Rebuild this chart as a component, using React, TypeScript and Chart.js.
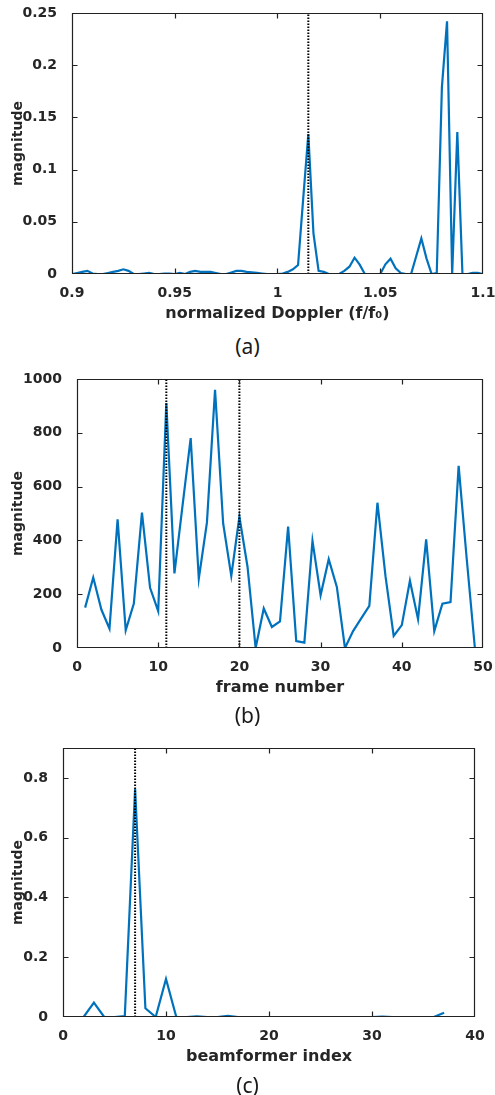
import React, { useEffect, useRef } from "react";
import { Chart, registerables } from "chart.js";

Chart.register(...registerables);

// ---------- Panel (a) ----------
const dopplerA = [
  0.9, 0.9025, 0.905, 0.9075, 0.91, 0.9125, 0.915, 0.9175, 0.92, 0.9225,
  0.925, 0.9275, 0.93, 0.9325, 0.935, 0.9375, 0.94, 0.9425, 0.945, 0.9475,
  0.95, 0.9525, 0.955, 0.9575, 0.96, 0.9625, 0.965, 0.9675, 0.97, 0.9725,
  0.975, 0.9775, 0.98, 0.9825, 0.985, 0.9875, 0.99, 0.9925, 0.995, 0.9975,
  1.0, 1.0025, 1.005, 1.0075, 1.01, 1.0125, 1.015, 1.0175, 1.02, 1.0225,
  1.025, 1.0275, 1.03, 1.0325, 1.035, 1.0375, 1.04, 1.0425, 1.045, 1.0475,
  1.05, 1.0525, 1.055, 1.0575, 1.06, 1.0625, 1.065, 1.0675, 1.07, 1.0725,
  1.075, 1.0775, 1.08, 1.0825, 1.085, 1.0875, 1.09, 1.0925, 1.095, 1.0975,
  1.1,
];
const magnitudeA = [
  0, 0.001, 0.002, 0.003, 0.0005, 0, 0, 0.001, 0.002, 0.003,
  0.0045, 0.003, 0, 0, 0.0005, 0.001, 0, 0, 0.0005, 0.0005,
  0, 0.001, 0, 0.002, 0.003, 0.002, 0.002, 0.002, 0.001, 0,
  0, 0.0015, 0.003, 0.003, 0.002, 0.0015, 0.001, 0.0005, 0, 0,
  0, 0.0005, 0.002, 0.0045, 0.0086, 0.072, 0.134, 0.039, 0.003, 0.002,
  0, 0, 0, 0.003, 0.007, 0.0156, 0.009, 0, 0, 0,
  0, 0.0093, 0.0147, 0.0055, 0.001, 0, 0, 0.017, 0.034, 0.015,
  0, 0.001, 0.179, 0.242, 0, 0.136, 0, 0, 0.001, 0.001,
  0,
];
const markersA = [1.015];
const xTicksA = [0.9, 0.95, 1, 1.05, 1.1];
const yTicksA = [0, 0.05, 0.1, 0.15, 0.2, 0.25];

// ---------- Panel (b) ----------
const framesB = [
  1, 2, 3, 4, 5, 6, 7, 8, 9, 10, 11, 12, 13, 14, 15, 16, 17, 18, 19, 20, 21, 22, 23, 24, 25,
  26, 27, 28, 29, 30, 31, 32, 33, 34, 35, 36, 37, 38, 39, 40, 41, 42, 43, 44, 45, 46, 47, 48, 49,
];
const magnitudeB = [
  150, 262, 143, 72, 478, 66, 165, 503, 224, 137, 911, 277, 530, 780, 258, 466, 960, 463, 268, 488,
  302, 0, 147, 78, 99, 451, 26, 20, 398, 196, 330, 227, 0, 63, 110, 157, 540, 265, 45, 85,
  250, 107, 404, 63, 165, 171, 677, 330, 0,
];
const markersB = [11, 20];
const xTicksB = [0, 10, 20, 30, 40, 50];
const yTicksB = [0, 200, 400, 600, 800, 1000];

// ---------- Panel (c) ----------
const beamsC = [
  1, 2, 3, 4, 5, 6, 7, 8, 9, 10, 11, 12, 13, 14, 15, 16, 17, 18, 19, 20,
  21, 22, 23, 24, 25, 26, 27, 28, 29, 30, 31, 32, 33, 34, 35, 36, 37,
];
const magnitudeC = [
  0, 0, 0.048, 0, 0, 0.003, 0.763, 0.029, 0, 0.127, 0, 0, 0.002, 0, 0, 0.004, 0, 0, 0, 0,
  0, 0, 0, 0, 0, 0, 0, 0, 0, 0, 0.001, 0, 0, 0, 0, 0, 0.0145,
];
const markersC = [7];
const xTicksC = [0, 10, 20, 30, 40];
const yTicksC = [0, 0.2, 0.4, 0.6, 0.8];

const PAGE_W = 495;
const TEXT = "#262626";
const BLUE = "#0072BD";

type Spec = {
  top: number;
  plotLeft: number;
  plotRight: number;
  plotTop: number;
  plotBottom: number;
  xTitleCenter: number;
  captionCenter: number;
  caption: string;
  xs: number[];
  ys: number[];
  markers: number[];
  xMin: number;
  xMax: number;
  yMin: number;
  yMax: number;
  xTicks: number[];
  yTicks: number[];
  xTitle: string;
  yTitle: string;
};

const specs: Spec[] = [
  {
    top: 0, plotLeft: 72, plotRight: 483, plotTop: 13, plotBottom: 274,
    xTitleCenter: 312, captionCenter: 346, caption: "(a)",
    xs: dopplerA, ys: magnitudeA, markers: markersA,
    xMin: 0.9, xMax: 1.1, yMin: 0, yMax: 0.25,
    xTicks: xTicksA, yTicks: yTicksA,
    xTitle: "normalized Doppler (f/f\u2080)", yTitle: "magnitude",
  },
  {
    top: 360, plotLeft: 77, plotRight: 483, plotTop: 379, plotBottom: 648,
    xTitleCenter: 686, captionCenter: 715, caption: "(b)",
    xs: framesB, ys: magnitudeB, markers: markersB,
    xMin: 0, xMax: 50, yMin: 0, yMax: 1000,
    xTicks: xTicksB, yTicks: yTicksB,
    xTitle: "frame number", yTitle: "magnitude",
  },
  {
    top: 730, plotLeft: 63, plotRight: 475, plotTop: 748, plotBottom: 1017,
    xTitleCenter: 1055, captionCenter: 1085, caption: "(c)",
    xs: beamsC, ys: magnitudeC, markers: markersC,
    xMin: 0, xMax: 40, yMin: 0, yMax: 0.9,
    xTicks: xTicksC, yTicks: yTicksC,
    xTitle: "beamformer index", yTitle: "magnitude",
  },
];

const fmt = (v: number) => String(+Number(v).toFixed(4));

const boxPlugin = {
  id: "matlabBox",
  afterDraw(chart: any) {
    const { ctx, chartArea } = chart;
    const { left, right, top, bottom } = chartArea;
    const xs = chart.scales.x;
    const ys = chart.scales.y;
    const tl = 5;
    ctx.save();
    ctx.setLineDash([]);
    ctx.strokeStyle = "#222222";
    ctx.lineWidth = 1.2;
    const L = Math.round(left) + 0.5;
    const R = Math.round(right) - 0.5;
    const T = Math.round(top) + 0.5;
    const B = Math.round(bottom) - 0.5;
    ctx.beginPath();
    ctx.moveTo(L, T);
    ctx.lineTo(R, T);
    ctx.lineTo(R, B);
    ctx.lineTo(L, B);
    ctx.closePath();
    ctx.stroke();
    ctx.beginPath();
    for (const t of xs.ticks) {
      const p = Math.round(xs.getPixelForValue(t.value)) + 0.5;
      if (p <= L + 1 || p >= R - 1) continue;
      ctx.moveTo(p, B);
      ctx.lineTo(p, B - tl);
      ctx.moveTo(p, T);
      ctx.lineTo(p, T + tl);
    }
    for (const t of ys.ticks) {
      const p = Math.round(ys.getPixelForValue(t.value)) + 0.5;
      if (p <= T + 1 || p >= B - 1) continue;
      ctx.moveTo(L, p);
      ctx.lineTo(L + tl, p);
      ctx.moveTo(R, p);
      ctx.lineTo(R - tl, p);
    }
    ctx.stroke();
    ctx.restore();
  },
};

function Panel({ spec }: { spec: Spec }) {
  const ref = useRef<HTMLCanvasElement | null>(null);
  const height = spec.xTitleCenter + 18 - spec.top;

  useEffect(() => {
    if (!ref.current) return;
    const markerSets = spec.markers.map((m) => ({
      data: [
        { x: m, y: spec.yMin },
        { x: m, y: spec.yMax },
      ],
      borderColor: "#000000",
      borderWidth: 2,
      borderDash: [1.5, 1.5],
      pointRadius: 0,
      tension: 0,
    }));
    const chart = new Chart(ref.current, {
      type: "line",
      data: {
        datasets: [
          ...markerSets,
          {
            data: spec.xs.map((x, i) => ({ x, y: spec.ys[i] })),
            borderColor: BLUE,
            borderWidth: 2.2,
            pointRadius: 0,
            tension: 0,
          },
        ],
      },
      options: {
        responsive: false,
        maintainAspectRatio: false,
        animation: false,
        layout: {
          padding: {
            top: spec.plotTop - spec.top,
            right: PAGE_W - spec.plotRight,
            left: 0,
            bottom: 0,
          },
        },
        plugins: {
          legend: { display: false },
          tooltip: { enabled: false },
        },
        scales: {
          x: {
            type: "linear",
            min: spec.xMin,
            max: spec.xMax,
            afterBuildTicks: (s: any) => {
              s.ticks = spec.xTicks.map((v) => ({ value: v }));
            },
            afterFit: (s: any) => {
              s.height = spec.top + height - spec.plotBottom;
              s.paddingLeft = 0;
              s.paddingRight = 0;
            },
            grid: { display: false },
            border: { display: false },
            ticks: {
              padding: 3,
              color: TEXT,
              maxRotation: 0,
              autoSkip: false,
              font: { family: "'DejaVu Sans'", size: 14, weight: "bold" },
              callback: (v: any) => fmt(v),
            },
            title: {
              display: true,
              text: spec.xTitle,
              color: TEXT,
              font: { family: "'DejaVu Sans'", size: 16, weight: "bold" },
              padding: { top: 0, bottom: 6.5 },
            },
          },
          y: {
            type: "linear",
            min: spec.yMin,
            max: spec.yMax,
            afterBuildTicks: (s: any) => {
              s.ticks = spec.yTicks.map((v) => ({ value: v }));
            },
            afterFit: (s: any) => {
              s.width = spec.plotLeft;
              s.paddingTop = 0;
              s.paddingBottom = 0;
            },
            grid: { display: false },
            border: { display: false },
            ticks: {
              padding: 7,
              color: TEXT,
              autoSkip: false,
              font: { family: "'DejaVu Sans'", size: 14, weight: "bold" },
              callback: (v: any) => fmt(v),
            },
            title: {
              display: true,
              text: spec.yTitle,
              color: TEXT,
              font: { family: "'DejaVu Sans'", size: 14, weight: "bold" },
              padding: { top: 9.6, bottom: 0 },
            },
          },
        },
      } as any,
      plugins: [boxPlugin],
    });
    return () => chart.destroy();
  }, [spec, height]);

  return (
    <>
      <canvas
        ref={ref}
        width={PAGE_W}
        height={height}
        style={{
          position: "absolute",
          left: 0,
          top: spec.top,
          width: PAGE_W,
          height,
          display: "block",
        }}
      />
      <div
        style={{
          position: "absolute",
          left: 0,
          top: spec.captionCenter - 12,
          width: PAGE_W,
          height: 24,
          lineHeight: "24px",
          textAlign: "center",
          fontFamily: "'Noto Sans', sans-serif",
          fontSize: 21,
          color: "#1a1a1a",
        }}
      >
        {spec.caption}
      </div>
    </>
  );
}

export default function App() {
  return (
    <div
      style={{
        position: "absolute",
        left: 0,
        top: 0,
        width: PAGE_W,
        height: 1095,
        background: "#ffffff",
        overflow: "hidden",
      }}
    >
      {specs.map((s, i) => (
        <Panel key={i} spec={s} />
      ))}
    </div>
  );
}
